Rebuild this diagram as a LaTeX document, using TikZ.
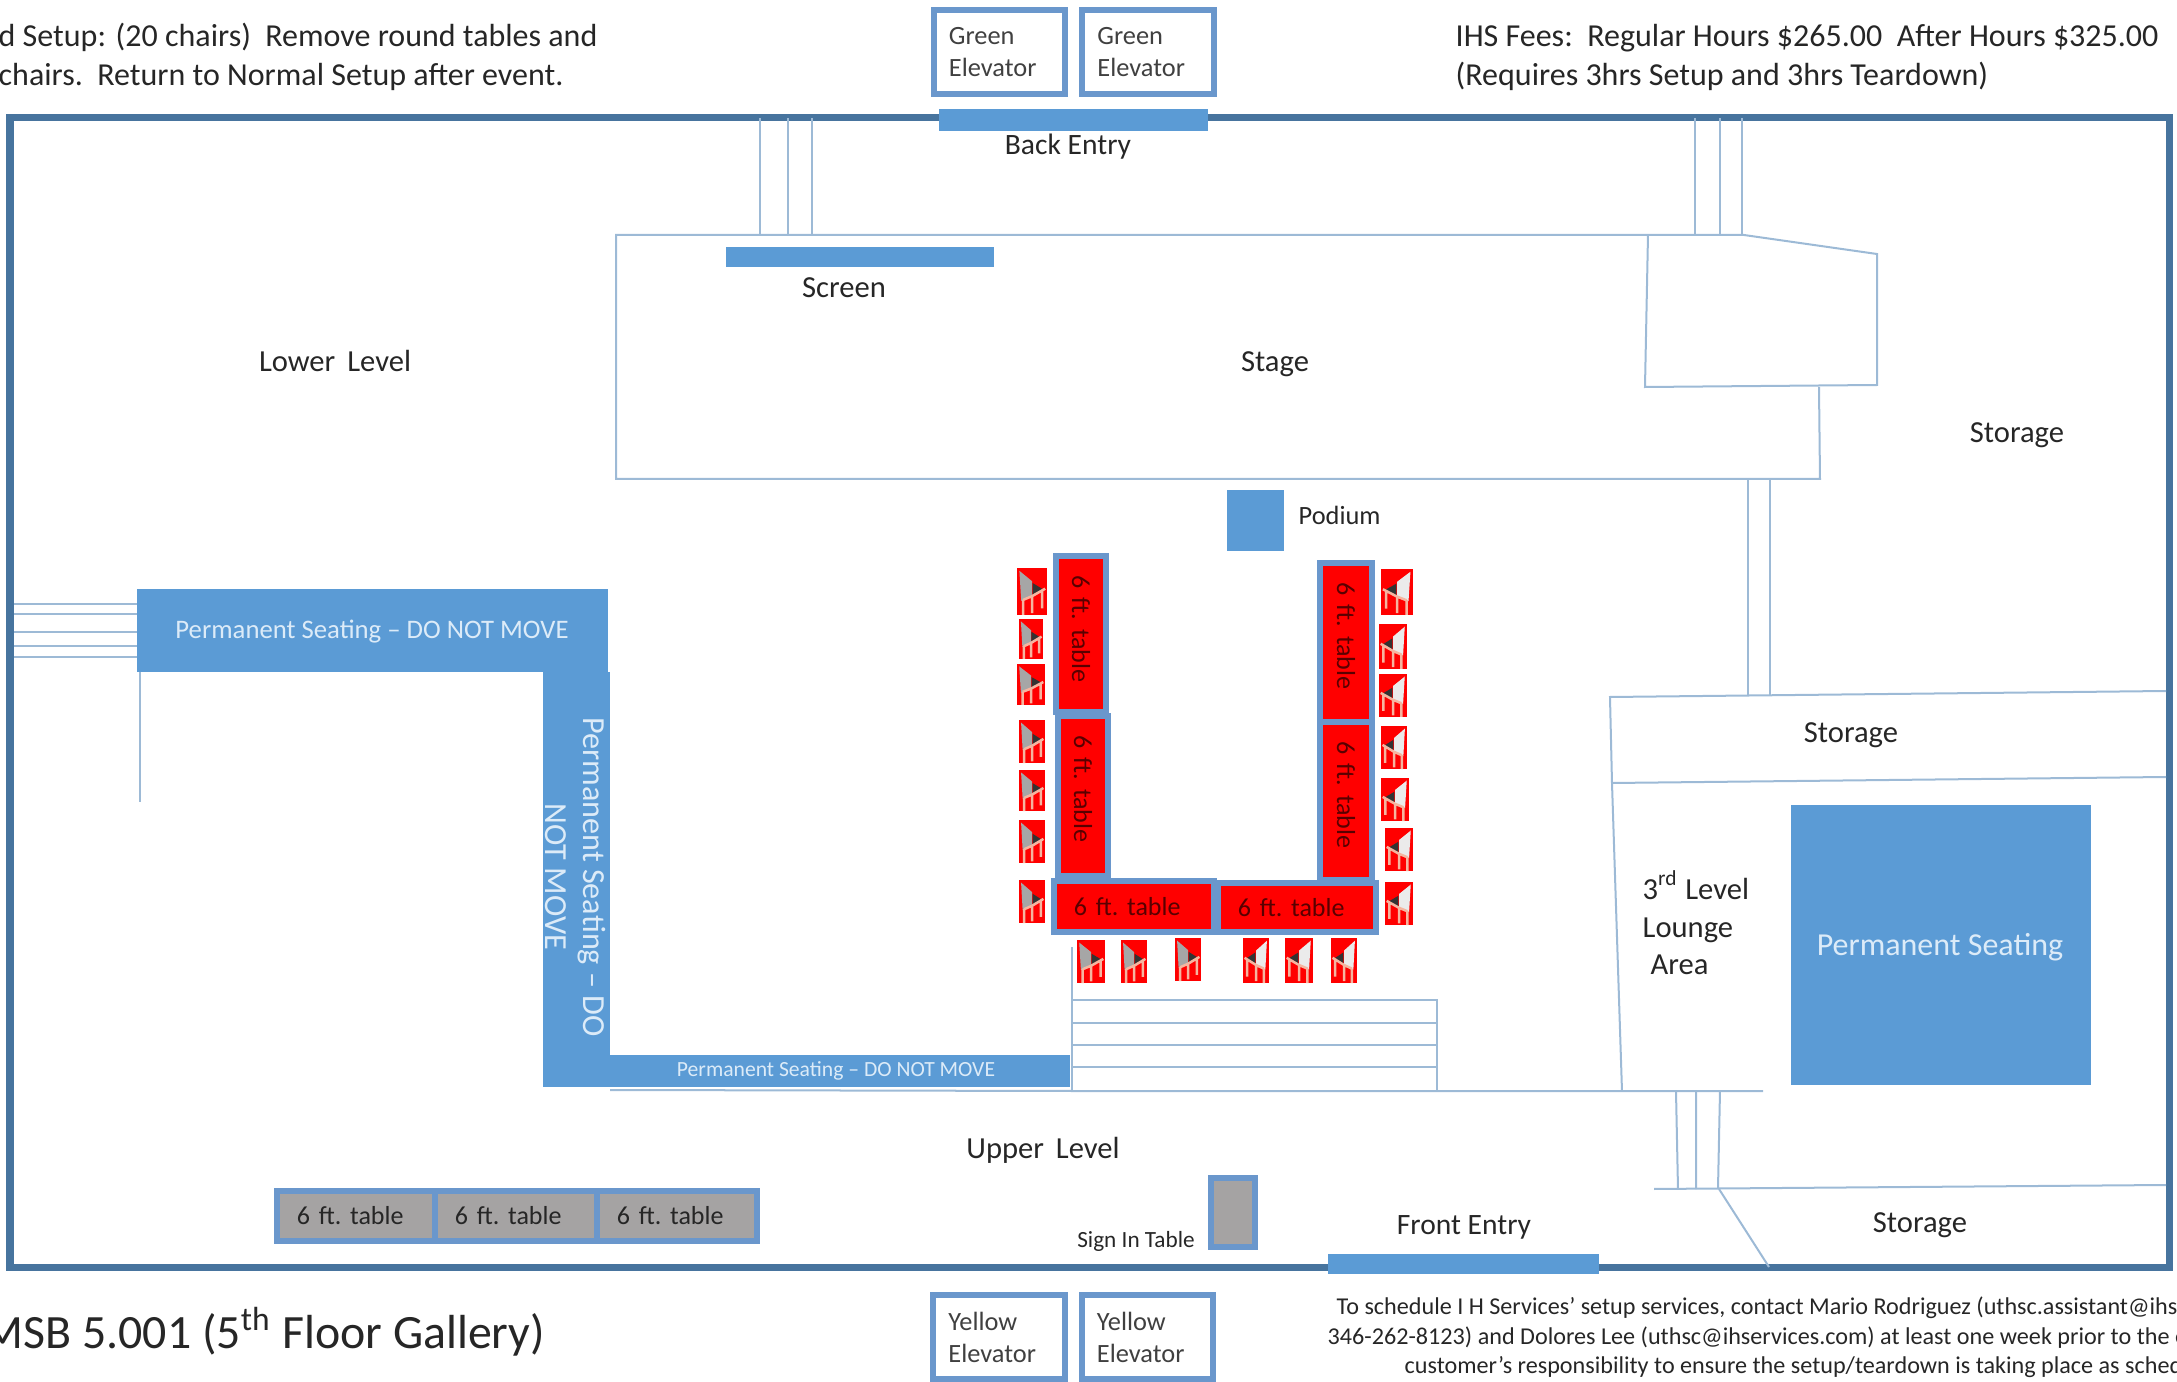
\documentclass[tikz,border=0pt]{standalone}
\usepackage{fontspec}
\setmainfont{Carlito}
\definecolor{wallblue}{HTML}{47749E}
\definecolor{seatblue}{HTML}{5B9BD5}
\definecolor{edgeblue}{HTML}{6A97CC}
\definecolor{thinblue}{HTML}{9DBAD6}
\definecolor{paleblue}{HTML}{DCEBF8}
\definecolor{tablegray}{HTML}{A5A3A3}
\definecolor{chairleg}{HTML}{F5B5A0}
\newcommand{\tbltext}{\mbox{6 ft.\ table}}
\tikzset{
  wall/.style={draw=wallblue,line width=0.07cm},
  thin wall/.style={draw=thinblue,line width=0.02cm},
  room/.style={font=\fontsize{8.7}{11.1}\selectfont,text=black!85,inner sep=0},
  elevbox/.style={draw=edgeblue,line width=0.06cm,fill=white,minimum width=1.31cm,minimum height=0.84cm,inner xsep=0.15cm,inner ysep=0,text width=1.01cm,align=left,text=black!75,font=\fontsize{7.5}{9.1}\selectfont},
  seat/.style={text=paleblue,inner sep=0,align=center},
  tbl/.style={draw=edgeblue,line width=0.06cm,inner xsep=0.2cm,inner ysep=0,minimum height=0.5cm,align=left,font=\fontsize{7.4}{9}\selectfont},
  redtbl/.style={tbl,fill=red,text=black!65!red},
  graytbl/.style={tbl,fill=tablegray,text=black!85},
}
\newcommand{\chairbody}[1]{
  \fill[red] (0,0) rectangle (1,1);
  \fill[#1] (0.08,0.06) -- (0.50,0.28) -- (0.50,0.58) -- (0.14,0.70) -- cycle;
  \fill[black!80] (0.52,0.32) -- (0.52,0.58) -- (0.86,0.45) -- cycle;
  \draw[chairleg,line width=0.025cm] (0.20,0.68) -- (0.20,1) (0.50,0.60) -- (0.50,0.96) (0.84,0.48) -- (0.84,0.86) (0.20,0.68) -- (0.50,0.60) -- (0.94,0.44);
}
\begin{document}
\begin{tikzpicture}[x=0.01cm,y=-0.01cm]
\useasboundingbox (0,0) rectangle (2177,1382);
% outer walls
\draw[wall] (10,118) rectangle (2169,1267);
% thin lines of the floor
\draw[thin wall] (760,118) -- (760,235) (788,118) -- (788,235) (812,118) -- (812,235);
\draw[thin wall] (1695,118) -- (1695,235) (1720,118) -- (1720,235) (1742,118) -- (1742,235);
\draw[thin wall] (1744,235) -- (616,235) -- (616,479) -- (1820,479) -- (1819,387);
\draw[thin wall] (1648,235) -- (1645,387) -- (1877,385) -- (1877,254) -- (1744,235);
\draw[thin wall] (1748,479) -- (1748,695) (1770,479) -- (1770,695);
\draw[thin wall] (2166,691) -- (1610,697) -- (1612,783) -- (2166,777);
\draw[thin wall] (1612,783) -- (1622,1091);
\draw[thin wall] (610,1090) -- (1072,1091) -- (1763,1091);
\draw[thin wall] (1676,1091) -- (1678,1189) (1696,1091) -- (1696,1189) (1720,1091) -- (1718,1189);
\draw[thin wall] (1654,1189) -- (2166,1185);
\draw[thin wall] (1719,1189) -- (1769,1267);
\draw[thin wall] (14,604) -- (137,604) (14,614) -- (137,614) (14,632) -- (137,632) (14,646) -- (137,646) (14,657) -- (137,657);
\draw[thin wall] (140,672) -- (140,802);
\draw[thin wall] (1072,947) -- (1072,1090);
\draw[thin wall] (1072,1000) -- (1437,1000) -- (1437,1090);
\foreach \y in {1023,1045,1067} {
  \draw[thin wall] (1072,\y) -- (1437,\y);
}
% entries and screen
\fill[seatblue] (939,109) rectangle (1208,131);
\fill[seatblue] (726,247) rectangle (994,267);
\fill[seatblue] (1328,1254) rectangle (1599,1274);
\node[room,font=\fontsize{8.4}{11}\selectfont] (nBack) at (1068,147) {Back Entry};
\node[room] (nScreen) at (844,288) {Screen};
\node[room,font=\fontsize{8.4}{11}\selectfont] (nFront) at (1464,1227) {Front Entry};
% elevators
\node[elevbox] (nGreenA) at (999.5,52) {Green\\Elevator};
\node[elevbox] (nGreenB) at (1148,52) {Green\\Elevator};
\node[elevbox] (nYellowA) at (999,1337) {Yellow\\Elevator};
\node[elevbox] (nYellowB) at (1147.5,1337) {Yellow\\Elevator};
% permanent seating
\fill[seatblue] (137,589) rectangle (608,672);
\fill[seatblue] (543,672) rectangle (610,1087);
\fill[seatblue] (608,1055) rectangle (1070,1087);
\fill[seatblue] (1791,805) rectangle (2091,1085);
\node[seat,font=\fontsize{7.6}{9}\selectfont] (nSeatA) at (372,632) {Permanent Seating -- DO NOT MOVE};
\node[seat,rotate=-90,font=\fontsize{9.15}{10.8}\selectfont] (nSeatB) at (576,877) {Permanent Seating -- DO\\NOT MOVE};
\node[seat,font=\fontsize{6.15}{7}\selectfont] (nSeatC) at (836,1071) {Permanent Seating -- DO NOT MOVE};
\node[seat,font=\fontsize{9.1}{11}\selectfont] (nSeatD) at (1940,947) {Permanent Seating};
% podium
\fill[seatblue] (1227,490) rectangle (1284,551);
\node[room,anchor=west,font=\fontsize{7.5}{9}\selectfont] (nPodium) at (1298,515) {Podium};
% red tables
\node[redtbl,text width=1.16cm,rotate=-90] (nTableA) at (1081,634) {\tbltext};
\node[redtbl,text width=1.2cm,rotate=-90] (nTableB) at (1083,796) {\tbltext};
\node[redtbl,text width=1.19cm,minimum height=0.52cm,rotate=-90] (nTableC) at (1346,642.5) {\tbltext};
\node[redtbl,text width=1.18cm,minimum height=0.52cm,rotate=-90] (nTableD) at (1346,801) {\tbltext};
\node[redtbl,text width=1.2cm,minimum height=0.51cm] (nTableE) at (1134,906.5) {\tbltext};
\node[redtbl,text width=1.18cm,minimum height=0.49cm] (nTableF) at (1297,907.5) {\tbltext};
% chairs
\foreach \xa/\ya/\xb/\yb in {1017/568/1047/615,1019/619/1043/659,1017/664/1045/705,1019/720/1045/763,1019/770/1045/811,1019/820/1045/863,1019/880/1045/923,1077/940/1105/983,1121/940/1147/983,1175/938/1201/981} {
  \pgfmathsetmacro{\w}{\xb-\xa}
  \pgfmathsetmacro{\h}{\yb-\ya}
  \begin{scope}[shift={(\xa,\ya)},xscale=\w,yscale=\h]
    \chairbody{black!35}
  \end{scope}
}
\foreach \xa/\ya/\xb/\yb in {1243/938/1269/983,1285/938/1313/983,1331/938/1357/983,1381/569/1413/615,1379/624/1407/669,1379/674/1407/717,1381/726/1407/769,1381/778/1409/821,1385/828/1413/871,1385/882/1413/925} {
  \pgfmathsetmacro{\w}{\xb-\xa}
  \pgfmathsetmacro{\h}{\yb-\ya}
  \begin{scope}[shift={(\xb,\ya)},xscale=-\w,yscale=\h]
    \chairbody{black!8}
  \end{scope}
}
% gray tables
\node[graytbl,text width=1.18cm] (nGrayA) at (356,1216) {\tbltext};
\node[graytbl,text width=1.22cm] (nGrayB) at (516,1216) {\tbltext};
\node[graytbl,text width=1.2cm] (nGrayC) at (677,1216) {\tbltext};
\node[tbl,fill=tablegray,minimum width=0.44cm,minimum height=0.69cm,inner xsep=0] (nSign) at (1233,1212.5) {};
\node[room,font=\fontsize{6.6}{8}\selectfont] (nSignLabel) at (1136,1241) {Sign In Table};
% room labels
\node[room] (nLower) at (335,361) {Lower\hspace{0.05cm} Level};
\node[room] (nStage) at (1275,364) {Stage};
\node[room] (nStorageA) at (2017,435) {Storage};
\node[room] (nStorageB) at (1851,735) {Storage};
\node[room] (nStorageC) at (1920,1225) {Storage};
\node[room] (nUpper) at (1043,1150) {Upper\hspace{0.05cm} Level};
\node[room,anchor=west,align=left,font=\fontsize{8.7}{10.7}\selectfont] (nLounge) at (1642,923) {3\textsuperscript{rd} Level\\Lounge\\\hspace*{0.08cm}Area};
% notes round the plan
\node[room,anchor=west,align=left,font=\fontsize{9.1}{11.1}\selectfont] (nSetup) at (-2,57) {d Setup: (20 chairs)\ \ Remove round tables and\\chairs.\ \ Return to Normal Setup after event.};
\node[room,anchor=west,align=left,font=\fontsize{9.1}{11.1}\selectfont] (nFees) at (1455,57) {IHS Fees:\ \ Regular Hours \$265.00\ \ After Hours \$325.00\\(Requires 3hrs Setup and 3hrs Teardown)};
\node[room,anchor=west,font=\fontsize{13.6}{16}\selectfont] (nTitle) at (-18,1332) {MSB 5.001 (5\textsuperscript{th} Floor Gallery)};
\node[room,anchor=west,font=\fontsize{6.87}{8}\selectfont] (nCallA) at (1336,1308) {To schedule I H Services’ setup services, contact Mario Rodriguez (uthsc.assistant@ihse};
\node[room,anchor=west,font=\fontsize{6.87}{8}\selectfont] (nCallB) at (1327,1338) {346-262-8123) and Dolores Lee (uthsc@ihservices.com) at least one week prior to the e};
\node[room,anchor=west,font=\fontsize{6.87}{8}\selectfont] (nCallC) at (1404,1367) {customer's responsibility to ensure the setup/teardown is taking place as sched};
\end{tikzpicture}
\end{document}
